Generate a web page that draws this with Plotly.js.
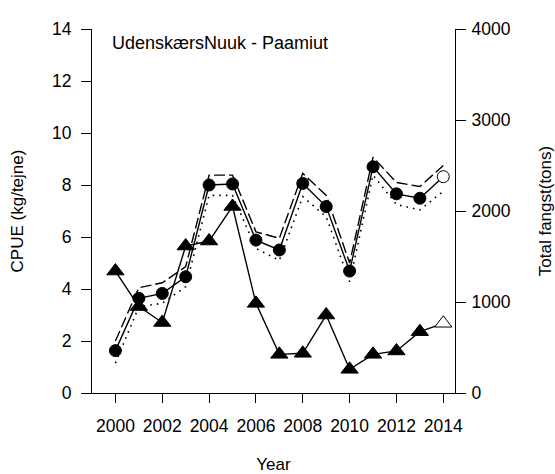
<!DOCTYPE html>
<html>
<head>
<meta charset="utf-8">
<script src="https://cdn.plot.ly/plotly-3.0.1.min.js"></script>
<style>html,body{margin:0;padding:0;background:#fff;}#chart{width:555px;height:474px;}</style>
</head>
<body>
<div id="chart"></div>
<script>
var years = [2000,2001,2002,2003,2004,2005,2006,2007,2008,2009,2010,2011,2012,2013,2014];
var cpue  = [1.63,3.64,3.83,4.47,8.00,8.04,5.88,5.50,8.06,7.17,4.69,8.70,7.66,7.49,8.32];
var cpueUpper = [2.00,4.05,4.24,4.86,8.38,8.38,6.20,5.95,8.45,7.60,5.00,9.07,8.10,7.94,8.75];
var cpueLower = [1.15,3.32,3.45,4.09,7.60,7.60,5.56,5.10,7.55,6.78,4.28,8.38,7.25,7.04,7.76];
var catchTons = [1340,950,775,1615,1670,2050,985,425,436,857,260,425,462,674,766];
var xTickVals = [2000,2002,2004,2006,2008,2010,2012,2014];
var chartTitle = 'UdenskærsNuuk - Paamiut';

var FONT = 'Liberation Sans, Arial, sans-serif';
// last year drawn open (white fill)
var fillColors = years.map(function(y){ return y === 2014 ? 'white' : 'black'; });

var traces = [
  {x: years, y: cpueUpper, type:'scatter', mode:'lines', yaxis:'y',
   line:{color:'black', width:1.4, dash:'11px,4px'}, hoverinfo:'skip', showlegend:false},
  {x: years, y: cpueLower, type:'scatter', mode:'lines', yaxis:'y',
   line:{color:'black', width:1.6, dash:'1.6px,5px'}, hoverinfo:'skip', showlegend:false},
  {x: years, y: catchTons, type:'scatter', mode:'lines+markers', yaxis:'y2',
   line:{color:'black', width:1.4},
   marker:{symbol:'triangle-up', size:15, color:fillColors, line:{color:'black', width:1}},
   showlegend:false},
  {x: years, y: cpue, type:'scatter', mode:'lines+markers', yaxis:'y',
   line:{color:'black', width:1.4},
   marker:{symbol:'circle', size:12, color:fillColors, line:{color:'black', width:1}},
   showlegend:false}
];

var layout = {
  width:555, height:474, autosize:false,
  margin:{l:92, r:100, t:29, b:81, pad:0},
  paper_bgcolor:'white', plot_bgcolor:'white',
  font:{family:FONT, color:'black', size:17},
  showlegend:false,
  xaxis:{
    range:[1999, 2014.5], tickvals:xTickVals, ticktext:xTickVals.map(String),
    ticks:'outside', ticklen:9, tickwidth:1, tickcolor:'black',
    showline:true, linecolor:'black', linewidth:1, mirror:false,
    showgrid:false, zeroline:false, ticklabelstandoff:8,
    tickfont:{family:FONT, size:17.5},
    title:{text:'Year', font:{family:FONT, size:17}, standoff:29}
  },
  yaxis:{
    range:[0,14], dtick:2, tick0:0,
    ticks:'outside', ticklen:10, tickwidth:1, tickcolor:'black',
    showline:true, linecolor:'black', linewidth:1,
    showgrid:false, zeroline:false, ticklabelstandoff:6,
    tickfont:{family:FONT, size:17.5},
    title:{text:'CPUE (kg/tejne)', font:{family:FONT, size:17}, standoff:24}
  },
  yaxis2:{
    range:[0,4000], dtick:1000, tick0:0, overlaying:'y', side:'right',
    ticks:'outside', ticklen:10, tickwidth:1, tickcolor:'black',
    showline:true, linecolor:'black', linewidth:1,
    showgrid:false, zeroline:false, ticklabelstandoff:2,
    tickfont:{family:FONT, size:17.5},
    title:{text:'Total fangst(tons)', font:{family:FONT, size:17}, standoff:30}
  },
  annotations:[{
    text: chartTitle, xref:'paper', yref:'paper',
    x:0.0496, y:0.9615, xanchor:'left', yanchor:'middle',
    showarrow:false, font:{family:FONT, size:18, color:'black'}
  }]
};

Plotly.newPlot('chart', traces, layout, {displayModeBar:false, staticPlot:true});
</script>
</body>
</html>
